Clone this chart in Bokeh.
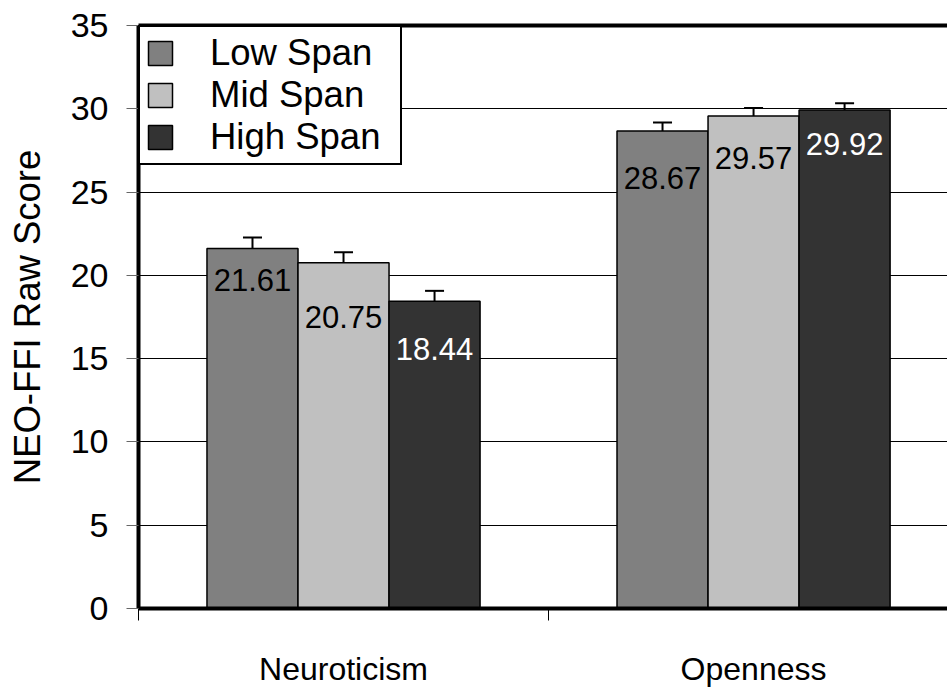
from bokeh.plotting import figure
from bokeh.models import (ColumnDataSource, Whisker, TeeHead, Legend, LegendItem,
                          LinearAxis, FixedTicker, Range1d)
from bokeh.embed import file_html
from bokeh.resources import INLINE
from bokeh.core.properties import value

# ---- data ----
categories = ["Neuroticism", "Openness"]
series = ["Low Span", "Mid Span", "High Span"]
low_span = [21.61, 28.67]
mid_span = [20.75, 29.57]
high_span = [18.44, 29.92]
low_err = [0.67, 0.50]
mid_err = [0.64, 0.48]
high_err = [0.63, 0.41]
y_ticks = [0, 5, 10, 15, 20, 25, 30, 35]

values = [low_span, mid_span, high_span]
errors = [low_err, mid_err, high_err]

# ---- styles ----
FONT = "Liberation Sans"
colors = ["#808080", "#c0c0c0", "#333333"]
label_colors = ["black", "black", "white"]
label_offsets = [[20, 36], [43, 31], [37, 23]]  # px below bar top
bar_width = 0.222
group_offsets = [-0.222, 0.0, 0.222]

p = figure(width=947, height=689, output_backend="svg", toolbar_location=None,
           x_range=Range1d(0, 1.973), y_range=Range1d(0, 35),
           min_border_left=138, min_border_right=0, min_border_top=25,
           min_border_bottom=77)
p.outline_line_color = None
p.background_fill_color = "white"
p.border_fill_color = "white"

items = []
for k, name in enumerate(series):
    xs = [i + 0.5 + group_offsets[k] for i in range(len(categories))]
    src = ColumnDataSource(dict(
        x=xs, top=values[k],
        upper=[v + e for v, e in zip(values[k], errors[k])],
        lbl=[f"{v:.2f}" for v in values[k]],
        yoff=label_offsets[k],
    ))
    r = p.vbar(x="x", top="top", bottom=0, width=bar_width, source=src,
               fill_color=colors[k], line_color="black", line_width=1.5)
    items.append(LegendItem(label=name, renderers=[r]))
    w = Whisker(source=src, base="x", lower="top", upper="upper",
                line_color="black", line_width=2,
                upper_head=TeeHead(size=19, line_color="black", line_width=2),
                lower_head=None)
    p.add_layout(w)
    p.text(x="x", y="top", text="lbl", y_offset="yoff", source=src,
           text_align="center", text_baseline="top",
           text_font=value(FONT), text_font_size="31px",
           text_color=label_colors[k])

legend = Legend(items=items, location="top_left", margin=0, padding=5,
                spacing=0, glyph_width=30, glyph_height=30, label_standoff=35,
                label_width=185,
                label_text_font=FONT, label_text_font_size="36.5px",
                label_text_color="black",
                border_line_color="black", border_line_width=2,
                border_line_alpha=1.0,
                background_fill_color="white", background_fill_alpha=1.0)
p.add_layout(legend)

# y axis
p.yaxis.ticker = FixedTicker(ticks=y_ticks)
p.yaxis.axis_label = "NEO-FFI Raw Score"
p.yaxis.axis_label_text_font = FONT
p.yaxis.axis_label_text_font_size = "36.5px"
p.yaxis.axis_label_text_font_style = "normal"
p.yaxis.axis_label_text_color = "black"
p.yaxis.axis_label_standoff = 20
p.yaxis.major_label_text_font = FONT
p.yaxis.major_label_text_font_size = "34px"
p.yaxis.major_label_text_color = "black"
p.yaxis.major_label_standoff = 18
p.yaxis.major_tick_out = 12
p.yaxis.major_tick_in = 0
p.yaxis.major_tick_line_color = "#666666"
p.yaxis.minor_tick_line_color = None
p.yaxis.axis_line_width = 4
p.yaxis.axis_line_color = "black"

# x axis
p.xaxis.ticker = FixedTicker(ticks=[i + 0.5 for i in range(len(categories))],
                             minor_ticks=[float(i) for i in range(len(categories) + 1)])
p.xaxis.major_label_overrides = {i + 0.5: c for i, c in enumerate(categories)}
p.xaxis.major_tick_line_color = None
p.xaxis.major_tick_out = 0
p.xaxis.major_tick_in = 0
p.xaxis.minor_tick_out = 12
p.xaxis.minor_tick_in = 0
p.xaxis.minor_tick_line_color = "black"
p.xaxis.major_label_text_font = FONT
p.xaxis.major_label_text_font_size = "32px"
p.xaxis.major_label_text_color = "black"
p.xaxis.major_label_standoff = 30
p.xaxis.axis_line_width = 4
p.xaxis.axis_line_color = "black"

# top border as an axis
top_axis = LinearAxis(ticker=FixedTicker(ticks=[]), axis_line_width=4,
                      axis_line_color="black", major_tick_out=0, major_tick_in=0,
                      minor_tick_out=0, minor_tick_in=0, major_label_standoff=0)
p.add_layout(top_axis, "above")

p.xgrid.visible = False
p.ygrid.ticker = FixedTicker(ticks=y_ticks)
p.ygrid.grid_line_color = "black"
p.ygrid.grid_line_width = 1

open("out.html", "w").write(file_html(p, INLINE))
